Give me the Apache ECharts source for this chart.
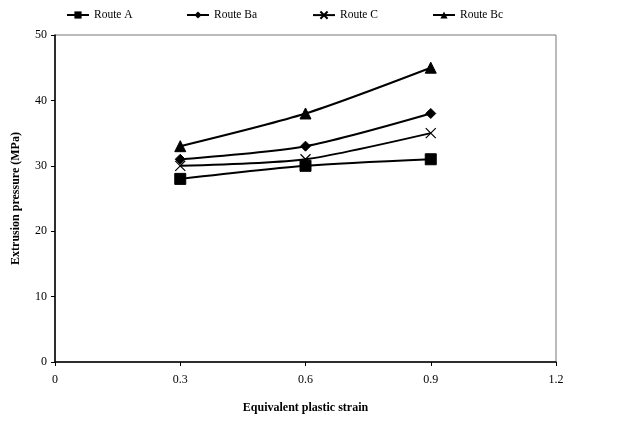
<!DOCTYPE html>
<html>
<head>
<meta charset="utf-8">
<script src="https://cdn.jsdelivr.net/npm/echarts@6/dist/echarts.min.js"></script>
<style>
html,body{margin:0;padding:0;background:#fff;}
#chart{width:620px;height:422px;}
</style>
</head>
<body>
<div id="chart"></div>
<script>
var strain = [0.3, 0.6, 0.9];
var routeA = [28, 30, 31];
var routeBa = [31, 33, 38];
var routeC = [30, 31, 35];
var routeBc = [33, 38, 45];
var names = ['Route A', 'Route Ba', 'Route C', 'Route Bc'];

var crossPath = 'path://M0,0L10,10M10,0L0,10';

function pts(vals) {
    var out = [];
    for (var i = 0; i < vals.length; i++) out.push([strain[i], vals[i]]);
    return out;
}

function mkSeries(name, vals, symbol, size, extra) {
    var s = {
        name: name,
        type: 'line',
        data: pts(vals),
        symbol: symbol,
        symbolSize: size,
        smooth: 0.25,
        lineStyle: {color: '#000', width: 2},
        itemStyle: {color: '#000', borderColor: '#000'},
        emphasis: {disabled: true}
    };
    if (extra) for (var k in extra) s[k] = extra[k];
    return s;
}

var myChart = echarts.init(document.getElementById('chart'));
var font = '"Liberation Serif", "DejaVu Serif", serif';

// one legend per item so they sit where the original puts them
var legendLeft = [66, 186, 312, 432];
var legends = [];
for (var i = 0; i < names.length; i++) {
    legends.push({
        top: 9,
        left: legendLeft[i],
        padding: 0,
        itemWidth: 22,
        itemHeight: 9,
        textStyle: {fontFamily: font, fontSize: 11.5, color: '#000'},
        data: [names[i]]
    });
}

myChart.setOption({
    animation: false,
    textStyle: {fontFamily: font},
    legend: legends,
    grid: {left: 55, right: 64, top: 35, bottom: 60, show: true, borderColor: '#777', borderWidth: 1},
    xAxis: {
        type: 'value',
        min: 0, max: 1.2, interval: 0.3,
        name: 'Equivalent plastic strain',
        nameLocation: 'middle',
        nameGap: 40,
        nameTextStyle: {fontFamily: font, fontWeight: 'bold', fontSize: 12, color: '#000'},
        axisLine: {lineStyle: {color: '#000', width: 1.5}},
        axisTick: {show: true, inside: false, length: 4, lineStyle: {color: '#000'}},
        axisLabel: {fontFamily: font, fontSize: 12, color: '#000', margin: 12},
        splitLine: {show: false}
    },
    yAxis: {
        type: 'value',
        min: 0, max: 50, interval: 10,
        name: 'Extrusion pressure (MPa)',
        nameLocation: 'middle',
        nameGap: 33,
        nameTextStyle: {fontFamily: font, fontWeight: 'bold', fontSize: 12, color: '#000'},
        axisLine: {show: true, lineStyle: {color: '#000', width: 1.5}},
        axisTick: {show: true, length: 4, lineStyle: {color: '#000'}},
        axisLabel: {fontFamily: font, fontSize: 12, color: '#000', margin: 8},
        splitLine: {show: false}
    },
    series: [
        mkSeries(names[0], routeA, 'rect', 11),
        mkSeries(names[1], routeBa, 'diamond', 10),
        mkSeries(names[2], routeC, crossPath, 10, {itemStyle: {color: 'none', borderColor: '#000', borderWidth: 1.2}}),
        mkSeries(names[3], routeBc, 'triangle', 11)
    ]
});
</script>
</body>
</html>
